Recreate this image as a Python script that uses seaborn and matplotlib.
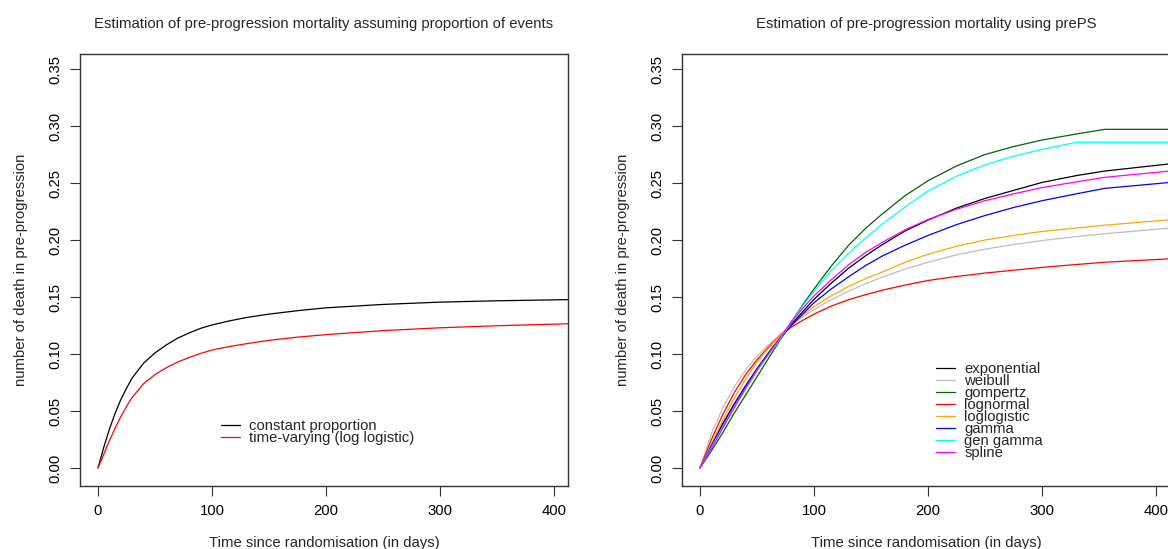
import numpy as np
import pandas as pd
import matplotlib
matplotlib.use("Agg")
import matplotlib.pyplot as plt
from matplotlib.lines import Line2D
import seaborn as sns

# ---------------- data ----------------
t_left = [0, 5, 10, 15, 20, 25, 30, 40, 50, 60, 70, 80, 90, 100, 115, 130, 150, 175, 200, 250, 300, 350, 412]
constant_prop = [0, 0.018, 0.034, 0.048, 0.060, 0.070, 0.079, 0.092, 0.101, 0.108, 0.114, 0.1185,
                 0.1225, 0.1255, 0.129, 0.132, 0.135, 0.138, 0.1405, 0.1435, 0.1455, 0.1467, 0.1477]
time_varying = [0, 0.012, 0.024, 0.035, 0.045, 0.054, 0.062, 0.074, 0.082, 0.088, 0.093, 0.097,
                0.1005, 0.1035, 0.1065, 0.109, 0.112, 0.1148, 0.117, 0.1205, 0.123, 0.1248, 0.1265]
left_labels = ["constant proportion", "time-varying (log logistic)"]

t_right = [0, 10, 20, 30, 40, 50, 60, 70, 80, 90, 100, 115, 130, 145, 160, 180, 200, 225, 250, 275, 300, 330, 355, 412]
exponential = [0, 0.0202, 0.039, 0.056, 0.072, 0.087, 0.101, 0.114, 0.126, 0.137, 0.148, 0.162, 0.175, 0.186,
               0.196, 0.208, 0.2175, 0.228, 0.2365, 0.2435, 0.2505, 0.2565, 0.2605, 0.2668]
weibull = [0, 0.030, 0.053, 0.071, 0.086, 0.098, 0.108, 0.117, 0.125, 0.1325, 0.139, 0.1475, 0.155, 0.1615,
           0.1675, 0.1745, 0.1805, 0.187, 0.192, 0.196, 0.1995, 0.203, 0.2055, 0.2105]
gompertz = [0, 0.015, 0.031, 0.048, 0.064, 0.080, 0.096, 0.112, 0.128, 0.143, 0.157, 0.177, 0.195, 0.210,
            0.223, 0.239, 0.252, 0.265, 0.275, 0.282, 0.2877, 0.293, 0.2971, 0.2971]
lognormal = [0, 0.025, 0.047, 0.066, 0.082, 0.095, 0.106, 0.116, 0.1235, 0.1295, 0.135, 0.142, 0.1475, 0.152,
             0.156, 0.1605, 0.1645, 0.168, 0.171, 0.1735, 0.176, 0.1785, 0.1805, 0.1835]
loglogistic = [0, 0.021, 0.042, 0.061, 0.078, 0.093, 0.105, 0.116, 0.125, 0.134, 0.1415, 0.151, 0.159, 0.166,
               0.172, 0.1805, 0.1875, 0.1945, 0.200, 0.204, 0.2075, 0.2105, 0.213, 0.2178]
gamma = [0, 0.0195, 0.038, 0.056, 0.072, 0.087, 0.100, 0.113, 0.125, 0.135, 0.145, 0.157, 0.1675, 0.1775,
         0.186, 0.1955, 0.204, 0.2135, 0.2215, 0.2285, 0.2345, 0.2405, 0.2453, 0.2505]
gen_gamma = [0, 0.018, 0.036, 0.053, 0.069, 0.085, 0.099, 0.113, 0.128, 0.142, 0.155, 0.173, 0.188, 0.2015,
             0.214, 0.229, 0.243, 0.256, 0.266, 0.2735, 0.2795, 0.2857, 0.2857, 0.2857]
spline = [0, 0.017, 0.035, 0.053, 0.070, 0.086, 0.100, 0.114, 0.128, 0.140, 0.151, 0.165, 0.178, 0.189,
          0.198, 0.209, 0.218, 0.227, 0.2345, 0.2405, 0.246, 0.251, 0.255, 0.2605]
right_labels = ["exponential", "weibull", "gompertz", "lognormal", "loglogistic", "gamma", "gen gamma", "spline"]

x_ticks = [0, 100, 200, 300, 400]
y_ticks = [0.00, 0.05, 0.10, 0.15, 0.20, 0.25, 0.30, 0.35]

left_title = "Estimation of pre-progression mortality assuming proportion of events"
right_title = "Estimation of pre-progression mortality using prePS"
xlabel = "Time since randomisation (in days)"
ylabel = "number of death in pre-progression"

# ---------------- style ----------------
sns.set_theme(style="white")
plt.rcParams["font.family"] = ["Liberation Sans", "DejaVu Sans"]
FS = 10.7

W, H = 1168, 549
fig = plt.figure(figsize=(W / 100, H / 100), dpi=100)


def px_axes(x0, y0, x1, y1):
    return fig.add_axes([x0 / W, 1 - y1 / H, (x1 - x0) / W, (y1 - y0) / H])


axL = px_axes(80, 54, 568, 486)
axR = px_axes(682, 54, 1170, 486)

left_df = pd.DataFrame({"t": t_left * 2,
                        "v": constant_prop + time_varying,
                        "model": [left_labels[0]] * len(t_left) + [left_labels[1]] * len(t_left)})
left_colors = {left_labels[0]: "black", left_labels[1]: "red"}
sns.lineplot(data=left_df, x="t", y="v", hue="model", palette=left_colors,
             hue_order=left_labels, ax=axL, linewidth=0.9, legend=False)

right_series = [exponential, weibull, gompertz, lognormal, loglogistic, gamma, gen_gamma, spline]
right_df = pd.DataFrame({"t": t_right * len(right_series),
                         "v": sum(right_series, []),
                         "model": sum([[lab] * len(t_right) for lab in right_labels], [])})
right_colors = dict(zip(right_labels, ["black", "#BEBEBE", "#006400", "red", "orange", "blue", "cyan", "magenta"]))
sns.lineplot(data=right_df, x="t", y="v", hue="model", palette=right_colors,
             hue_order=right_labels, ax=axR, linewidth=0.9, legend=False)


def style_axes(ax, title, labels, colors, anchor):
    ax.set_xlim(-15.8, 412.3)
    ax.set_ylim(-0.0158, 0.3632)
    ax.set_xticks(x_ticks)
    ax.set_xticklabels([str(v) for v in x_ticks])
    ax.set_yticks(y_ticks)
    ax.set_yticklabels([f"{v:.2f}" for v in y_ticks], rotation=90, va="center")
    ax.tick_params(axis="both", direction="out", length=7, width=0.8, color="#333333",
                   labelsize=FS, labelcolor="black", bottom=True, left=True)
    ax.tick_params(axis="x", pad=6.2)
    ax.tick_params(axis="y", pad=6)
    for s in ax.spines.values():
        s.set_color("#333333")
        s.set_linewidth(1.0)
        s.set_visible(True)
    ax.set_title(title, fontsize=FS, pad=18.5)
    ax.set_xlabel(xlabel, fontsize=FS, labelpad=12.5)
    ax.set_ylabel(ylabel, fontsize=FS, labelpad=14)
    handles = [Line2D([], [], color=colors[l], lw=0.9) for l in labels]
    ax.legend(handles, labels, loc="upper left", bbox_to_anchor=anchor, frameon=False,
              fontsize=FS, handlelength=1.3, handletextpad=0.6, labelspacing=-0.14,
              borderpad=0, borderaxespad=0)


style_axes(axL, left_title, left_labels, left_colors, (0.289, 0.154))
style_axes(axR, right_title, right_labels, right_colors, (0.5205, 0.286))

fig.savefig("out.png", dpi=100, facecolor="white")
